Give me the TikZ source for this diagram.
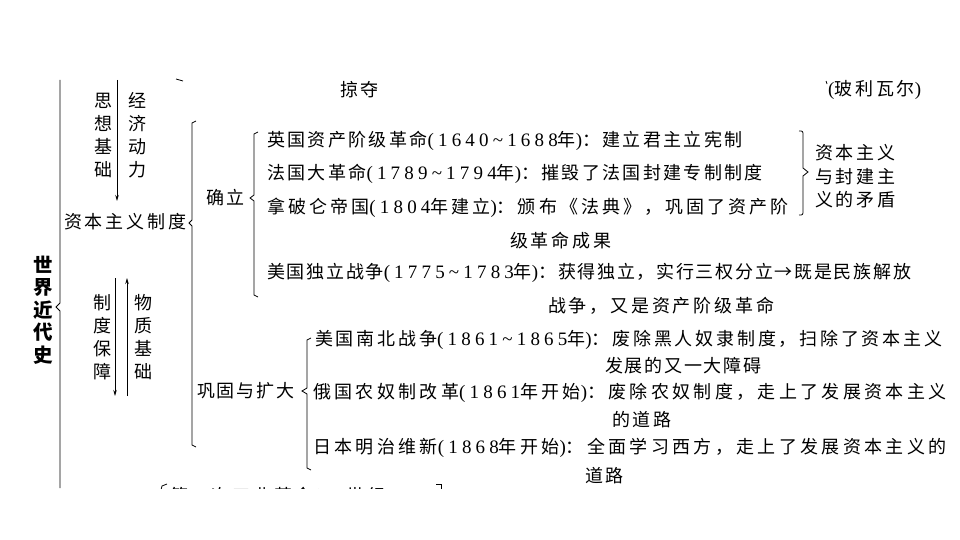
\documentclass[tikz,border=0pt]{standalone}
\usepackage{fontspec}
\setmainfont{Liberation Serif}
\newfontfamily\cjk[LetterSpace=15.5]{Noto Sans CJK SC}
\newfontfamily\cjkm[LetterSpace=13]{Noto Sans CJK SC}
\newfontfamily\cjkw[LetterSpace=17]{Noto Sans CJK SC}
\newfontfamily\cjkx[LetterSpace=18.5]{Noto Sans CJK SC}
\newfontfamily\cjkt[LetterSpace=9.5]{Noto Sans CJK SC}
\newfontfamily\cjkv{Noto Sans CJK SC}
\newfontfamily\latf[LetterSpace=22]{Liberation Serif}
\newcommand\lat[1]{{\latf\fontsize{19}{20}\selectfont #1}}
\newcommand\tildx{{\char`\~}}
\usetikzlibrary{arrows.meta}
\tikzset{
 txt/.style={font=\cjk\fontsize{18}{20}\selectfont, inner sep=0pt, anchor=west},
 txtm/.style={font=\cjkm\fontsize{18}{20}\selectfont, inner sep=0pt, anchor=west},
 txtw/.style={font=\cjkw\fontsize{18}{20}\selectfont, inner sep=0pt, anchor=west},
 txtx/.style={font=\cjkx\fontsize{18}{20}\selectfont, inner sep=0pt, anchor=west},
 txtt/.style={font=\cjkt\fontsize{18}{20}\selectfont, inner sep=0pt, anchor=west},
 vtxt/.style={font=\cjkv\fontsize{18}{23}\selectfont, inner sep=0pt, align=center},
 big/.style={font=\cjkv\bfseries\fontsize{19.5}{22.5}\selectfont, inner sep=0pt, align=center},
 ln/.style={line width=0.8pt, black},
 arr/.style={ln, -{Stealth[length=6pt,width=3.5pt]}},
}
\begin{document}
\begin{tikzpicture}[x=1pt,y=-1pt]
\fill[white] (0,0) rectangle (960,540);
\useasboundingbox (0,0) rectangle (960,540);
% left spine with brace tip
\node[big] (sj) at (43,310) {世\\界\\近\\代\\史};
\coordinate (sTop) at (60,80);
\coordinate (sTip) at (56,307);
\coordinate (sBot) at (60,488);
\draw[ln] (sTop) -- (60,303) -- (sTip) -- (60,311) -- (sBot);
% top partial fragments
\draw[ln] (176,79) -- (183,81);
\draw[ln] (826,81) -- (827,84);
% thought/economy
\node[vtxt] (sx) at (103,135) {思\\想\\基\\础};
\node[vtxt] (jj) at (137,135) {经\\济\\动\\力};
\coordinate (a1s) at (117,80);
\coordinate (a1e) at (117,201);
\draw[arr] (a1s) -- (a1e);
\node[txt] (zb) at (64,222) {资本主义制度};
% system / material
\node[vtxt] (zd) at (102,337) {制\\度\\保\\障};
\node[vtxt] (wz) at (143,337) {物\\质\\基\\础};
\coordinate (a2s) at (115,278);
\coordinate (a2e) at (115,396);
\coordinate (a3s) at (127,396);
\coordinate (a3e) at (127,278);
\draw[arr] (a2s) -- (a2e);
\draw[arr] (a3s) -- (a3e);
% big brace
\draw[ln] (196,121) -- (192,123) -- (192,220) -- (189,223) -- (192,226) -- (192,445) -- (196,447);
% top labels
\node[txt] (ld) at (340,90) {掠夺};
\node[txt] (bl) at (828,90) {\lat{(}玻利瓦尔\lat{)}};
% establishment
\node[txt] (ql) at (206,198) {确立};
\draw[ln] (258,132) -- (254,134) -- (254,195) -- (250,198) -- (254,201) -- (254,295) -- (258,297);
\node[txtm] (e1) at (267,141) {英国资产阶级革命\lat{(1640\tildx1688}年\lat{)}：建立君主立宪制};
\node[txtm] (e2) at (267,174) {法国大革命\lat{(1789\tildx1794}年\lat{)}：摧毁了法国封建专制制度};
\node[txtw] (e3) at (267,208) {拿破仑帝国\lat{(1804}年建立\lat{)}：颁布《法典》，巩固了资产阶};
\node[txt] (e3b) at (510,241) {级革命成果};
\node[txtt] (e4) at (267,273) {美国独立战争\lat{(1775\tildx1783}年\lat{)}：获得独立，实行三权分立→既是民族解放};
\node[txt] (e4b) at (548,306) {战争，又是资产阶级革命};
% right brace
\draw[ln] (799,131) .. controls (803,131) .. (803,136) -- (803,168) -- (808,172) -- (803,176) -- (803,210) .. controls (803,215) .. (799,215);
\node[txt] (m1) at (815,153) {资本主义};
\node[txt] (m2) at (815,177) {与封建主};
\node[txt] (m3) at (815,200) {义的矛盾};
% consolidation
\node[txtt] (gg) at (197,391) {巩固与扩大};
\draw[ln] (311,338) -- (307,340) -- (307,388) -- (302,391) -- (307,394) -- (307,468) -- (311,470);
\node[txt] (c1) at (315,340) {美国南北战争\lat{(1861\tildx1865}年\lat{)}：废除黑人奴隶制度，扫除了资本主义};
\node[txtt] (c1b) at (605,366) {发展的又一大障碍};
\node[txtx] (c2) at (313,393) {俄国农奴制改革\lat{(1861}年开始\lat{)}：废除农奴制度，走上了发展资本主义};
\node[txt] (c2b) at (612,420) {的道路};
\node[txtx] (c3) at (313,448) {日本明治维新\lat{(1868}年开始\lat{)}：全面学习西方，走上了发展资本主义的};
\node[txt] (c3b) at (585,476) {道路};
% bottom partial, cut off
\begin{scope}
\clip (0,0) rectangle (960,488);
\node[txt] (gy) at (170,497) {第一次工业革命\lat{(18}世纪};
\draw[ln] (167,484) -- (162,486) -- (161,490);
\draw[ln] (436,484) -- (441,484) -- (441,490);
\end{scope}
\end{tikzpicture}
\end{document}
